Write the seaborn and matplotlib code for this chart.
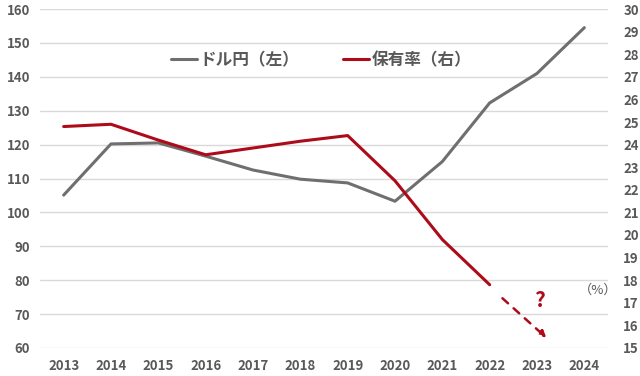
import matplotlib
matplotlib.use("Agg")
import matplotlib.pyplot as plt
import seaborn as sns
import pandas as pd

years = [2013, 2014, 2015, 2016, 2017, 2018, 2019, 2020, 2021, 2022, 2023, 2024]
usdjpy = [105.1, 120.2, 120.5, 116.6, 112.5, 109.8, 108.7, 103.3, 115.0, 132.3, 141.0, 154.5]
hold_years = [2013, 2014, 2015, 2016, 2017, 2018, 2019, 2020, 2021, 2022]
hold_rate = [24.8, 24.9, 24.2, 23.55, 23.85, 24.15, 24.4, 22.4, 19.8, 17.8]
left_ticks = [60, 70, 80, 90, 100, 110, 120, 130, 140, 150, 160]
right_ticks = list(range(15, 31))
legend_labels = ["ドル円（左）", "保有率（右）"]

sns.set_theme(style="white")
plt.rcParams['font.family'] = ['Noto Sans CJK JP', 'DejaVu Sans']

GRAY = "#6f6f6f"
RED = "#ae0b1a"
TXT = "#595959"

fig = plt.figure(figsize=(6.4, 3.76), dpi=100)
ax = fig.add_axes([0.0625, 0.0745, 0.8875, 0.9015])
ax2 = ax.twinx()

df1 = pd.DataFrame({"year": years, "v": usdjpy})
df2 = pd.DataFrame({"year": hold_years, "v": hold_rate})

sns.lineplot(data=df1, x="year", y="v", ax=ax, color=GRAY, lw=2.2, label=legend_labels[0], legend=False)
sns.lineplot(data=df2, x="year", y="v", ax=ax2, color=RED, lw=2.2, label=legend_labels[1], legend=False)

ax.set_xlim(2012.5, 2024.5)
ax.set_ylim(60, 160)
ax2.set_ylim(15, 30)
ax.set_yticks(left_ticks)
ax2.set_yticks(right_ticks)
ax.set_xticks(years)
ax.set_xticklabels([str(y) for y in years])
ax.set_xlabel("")
ax.set_ylabel("")
ax2.set_ylabel("")
ax.grid(axis="y", color="#d9d9d9", lw=1)
ax.set_axisbelow(True)
for a in (ax, ax2):
    for s in a.spines.values():
        s.set_visible(False)
    a.tick_params(length=0, labelsize=9.5, labelcolor=TXT)
    for lab in a.get_xticklabels() + a.get_yticklabels():
        lab.set_fontweight("bold")
ax.tick_params(axis="y", pad=7)
ax.tick_params(axis="x", pad=8)
ax2.tick_params(axis="y", pad=11)

# dashed arrow
ax2.annotate("", xy=(2023.2, 15.45), xytext=(2022.27, 17.2),
             arrowprops=dict(arrowstyle="-|>", color=RED, lw=1.8, ls=(0, (3, 3)),
                             mutation_scale=10, shrinkA=0, shrinkB=0))
ax2.text(2023.05, 17.1, "?", color=RED, fontsize=15, fontweight="bold", ha="center", va="center")
ax2.text(2024.3, 17.55, "（%）", color=TXT, fontsize=9.5, ha="center", va="center")

h1, l1 = ax.get_legend_handles_labels()
h2, l2 = ax2.get_legend_handles_labels()
leg = ax.legend(h1 + h2, l1 + l2, loc="center", bbox_to_anchor=(0.495, 0.85), ncol=2,
                frameon=False, fontsize=12, handlelength=1.6, handletextpad=0.15,
                columnspacing=2.6)
for t in leg.get_texts():
    t.set_color(TXT)
    t.set_fontweight("bold")

fig.savefig("out.png", dpi=100)
